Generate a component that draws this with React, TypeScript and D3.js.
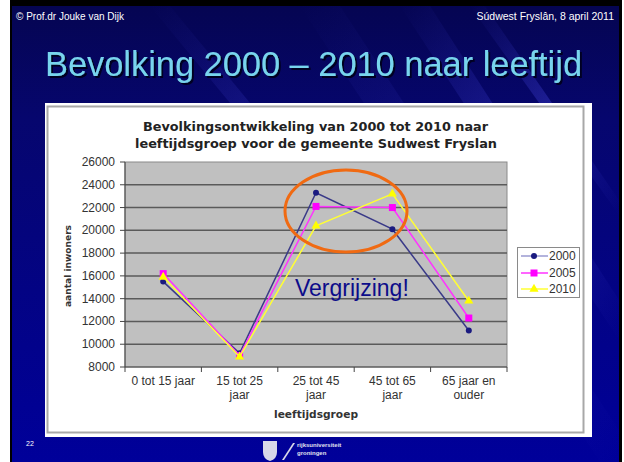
import React from "react";
import * as d3 from "d3";

const categories = ["0 tot 15 jaar", "15 tot 25 jaar", "25 tot 45 jaar", "45 tot 65 jaar", "65 jaar en ouder"];
const categoryLines = [["0 tot 15 jaar"], ["15 tot 25", "jaar"], ["25 tot 45", "jaar"], ["45 tot 65", "jaar"], ["65 jaar en", "ouder"]];
const series2000 = [15500, 9200, 23300, 20100, 11200];
const series2005 = [16200, 9000, 22100, 22000, 12300];
const series2010 = [15900, 8900, 20400, 23200, 13800];
const seriesNames = ["2000", "2005", "2010"];
const yTicks = [8000, 10000, 12000, 14000, 16000, 18000, 20000, 22000, 24000, 26000];

const W = 624, H = 462;
const plot = { left: 125, right: 507, top: 162, bottom: 367 };

export default function App() {
  const x = d3.scaleBand<string>().domain(categories).range([plot.left, plot.right]);
  const y = d3.scaleLinear().domain([8000, 26000]).range([plot.bottom, plot.top]);
  const cx = (c: string) => (x(c) as number) + x.bandwidth() / 2;
  const line = d3.line<[number, number]>().x(d => d[0]).y(d => d[1]);

  const series = [
    { name: seriesNames[0], values: series2000, color: "#1a1a80", lineColor: "#3a3a88", marker: "circle" },
    { name: seriesNames[1], values: series2005, color: "#ff00ff", lineColor: "#ff33ff", marker: "square" },
    { name: seriesNames[2], values: series2010, color: "#ffff00", lineColor: "#ffff33", marker: "triangle" },
  ];

  const marker = (type: string, px: number, py: number, color: string, key: string) => {
    if (type === "circle") return <circle key={key} cx={px} cy={py} r={3} fill={color} />;
    if (type === "square") return <rect key={key} x={px - 3.5} y={py - 3.5} width={7} height={7} fill={color} />;
    const tri = d3.symbol().type(d3.symbolTriangle).size(36)();
    return <path key={key} d={tri as string} transform={`translate(${px},${py})`} fill={color} />;
  };

  const chartFont = "'Liberation Sans', Arial, sans-serif";
  const wideFont = "'DejaVu Sans', Verdana, sans-serif";
  const legendY = [256, 273, 289];

  return (
    <svg width={W} height={H} style={{ position: "absolute", left: 0, top: 0 }} xmlns="http://www.w3.org/2000/svg">
      <defs>
        <linearGradient id="bg" x1="0" y1="0" x2="0" y2="1">
          <stop offset="0" stopColor="#050552" />
          <stop offset="0.25" stopColor="#06066e" />
          <stop offset="1" stopColor="#00009a" />
        </linearGradient>
        <linearGradient id="streak" x1="0" y1="0" x2="1" y2="1">
          <stop offset="0" stopColor="#3a3ad0" stopOpacity="0" />
          <stop offset="0.5" stopColor="#4848e0" stopOpacity="0.35" />
          <stop offset="1" stopColor="#3a3ad0" stopOpacity="0" />
        </linearGradient>
        <filter id="shadow" x="-5%" y="-20%" width="110%" height="150%">
          <feDropShadow dx="2" dy="2" stdDeviation="0.6" floodColor="#000022" floodOpacity="1" />
        </filter>
      </defs>
      <rect x={0} y={0} width={W} height={H} fill="#ffffff" />
      <rect x={10} y={0} width={612} height={H} fill="#000000" />
      <rect x={12} y={6} width={607} height={H - 6} fill="url(#bg)" />
      {/* streaks */}
      <g>
        <path d="M400,6 L430,6 L619,300 L619,340 Z" fill="url(#streak)" />
        <path d="M470,6 L485,6 L619,200 L619,215 Z" fill="url(#streak)" />
        <path d="M300,6 L340,6 L619,430 L619,462 L600,462 Z" fill="url(#streak)" opacity={0.6} />
        <path d="M150,6 L170,6 L330,200 L310,200 Z" fill="url(#streak)" opacity={0.5} />
      </g>

      {/* header */}
      <text x={16} y={20} fill="#ffffff" fontFamily={chartFont} fontSize={10}>© Prof.dr Jouke van Dijk</text>
      <text x={614} y={20} fill="#ffffff" fontFamily={chartFont} fontSize={10.5} textAnchor="end">Súdwest Fryslân, 8 april 2011</text>
      <text x={45} y={76} fill="#78d4ee" fontFamily={chartFont} fontSize={35} textLength={537} lengthAdjust="spacingAndGlyphs" filter="url(#shadow)">Bevolking 2000 – 2010 naar leeftijd</text>

      {/* chart frame */}
      <rect x={45} y={103} width={547} height={334} fill="#ffffff" />
      <rect x={47.5} y={106.5} width={536} height={326} fill="#ffffff" stroke="#a8a8a8" strokeWidth={2} />

      {/* title */}
      <text x={143} y={131} fontFamily={wideFont} fontSize={12.5} fontWeight="bold" fill="#222" textLength={345} lengthAdjust="spacingAndGlyphs">Bevolkingsontwikkeling van 2000 tot 2010 naar</text>
      <text x={135} y={148} fontFamily={wideFont} fontSize={12.5} fontWeight="bold" fill="#222" textLength={362} lengthAdjust="spacingAndGlyphs">leeftijdsgroep voor de gemeente Sudwest Fryslan</text>

      {/* plot area */}
      <rect x={plot.left} y={plot.top} width={plot.right - plot.left} height={plot.bottom - plot.top} fill="#c0c0c0" stroke="#8a8a8a" strokeWidth={1} />
      {yTicks.map(t => (
        <g key={t}>
          {t > 8000 && t < 26000 && <line x1={plot.left} x2={plot.right} y1={y(t)} y2={y(t)} stroke="#5a5a5a" strokeWidth={1.5} />}
          <line x1={plot.left - 5} x2={plot.left} y1={y(t)} y2={y(t)} stroke="#444" strokeWidth={1} />
          <text x={115} y={y(t) + 4} textAnchor="end" fontFamily={chartFont} fontSize={12} fill="#333">{t}</text>
        </g>
      ))}
      <line x1={plot.left} x2={plot.left} y1={plot.top} y2={plot.bottom} stroke="#444" strokeWidth={1} />
      <line x1={plot.left} x2={plot.right} y1={plot.bottom} y2={plot.bottom} stroke="#444" strokeWidth={1} />
      {categories.map((c, i) => (
        <line key={"tk" + i} x1={(x(c) as number)} x2={(x(c) as number)} y1={plot.bottom} y2={plot.bottom + 5} stroke="#444" strokeWidth={1} />
      ))}
      <line x1={plot.right} x2={plot.right} y1={plot.bottom} y2={plot.bottom + 5} stroke="#444" strokeWidth={1} />
      {categories.map((c, i) => (
        <text key={"xl" + i} x={cx(c)} y={385} textAnchor="middle" fontFamily={chartFont} fontSize={12} fill="#333">
          {categoryLines[i].map((l, j) => (
            <tspan key={j} x={cx(c)} dy={j === 0 ? 0 : 14}>{l}</tspan>
          ))}
        </text>
      ))}
      <text x={274} y={418} fontFamily={wideFont} fontSize={11} fontWeight="bold" fill="#333" textLength={84} lengthAdjust="spacingAndGlyphs">leeftijdsgroep</text>
      <text transform="translate(71,307) rotate(-90)" fontFamily={wideFont} fontSize={9.5} fontWeight="bold" fill="#333" textLength={82} lengthAdjust="spacingAndGlyphs">aantal inwoners</text>

      {/* series */}
      {series.map(s => {
        const pts = s.values.map((v, i) => [cx(categories[i]), y(v)] as [number, number]);
        return (
          <g key={s.name}>
            <path d={line(pts) as string} fill="none" stroke={s.lineColor} strokeWidth={1.5} />
            {pts.map((p, i) => marker(s.marker, p[0], p[1], s.color, s.name + i))}
          </g>
        );
      })}

      {/* annotation */}
      <ellipse cx={346} cy={211} rx={61} ry={41} fill="none" stroke="#f06a12" strokeWidth={3} />
      <text x={295} y={296} fontFamily={chartFont} fontSize={23} fill="#0c0c8a">Vergrijzing!</text>

      {/* legend */}
      <rect x={517.5} y={247.5} width={62} height={50} fill="#ffffff" stroke="#8a8a8a" strokeWidth={1} />
      {series.map((s, i) => (
        <g key={"lg" + s.name}>
          <line x1={521} x2={548} y1={legendY[i]} y2={legendY[i]} stroke={i === 0 ? "#9a9ad0" : s.lineColor} strokeWidth={1.5} />
          {marker(s.marker, 534, legendY[i], s.color, "lm" + i)}
          <text x={549} y={legendY[i] + 4} fontFamily={chartFont} fontSize={12} fill="#333">{s.name}</text>
        </g>
      ))}

      {/* footer */}
      <text x={26} y={446} fontFamily={chartFont} fontSize={7} fill="#ffffff">22</text>
      <g fill="#d8d8e8">
        <path d="M263,441 L277,441 L277,452 Q277,459 270,461 Q263,459 263,452 Z" />
        <path d="M282,460 L293,443 L295,443 L284,460 Z" />
        <text x={297} y={447} fontFamily={chartFont} fontSize={6} fontWeight="bold" fill="#e0e0ee">rijksuniversiteit</text>
        <text x={297} y={455} fontFamily={chartFont} fontSize={6} fontWeight="bold" fill="#e0e0ee">groningen</text>
      </g>
    </svg>
  );
}
